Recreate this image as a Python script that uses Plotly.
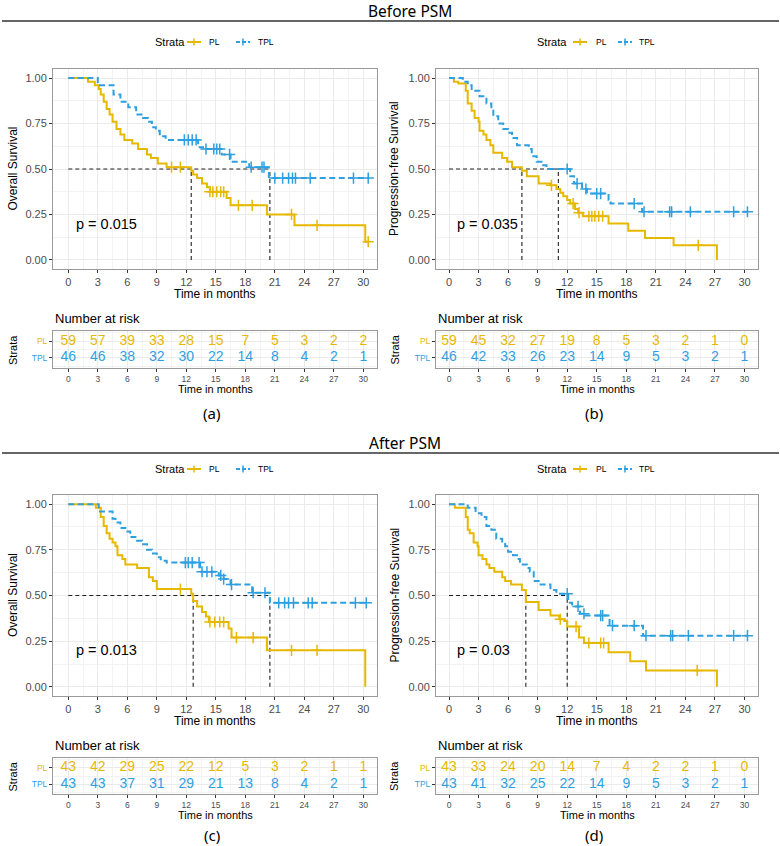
import numpy as np
import plotly.graph_objects as go

W, H = 780, 846
PL_COLOR = "#E7B800"
TPL_COLOR = "#2E9FDF"
TIME_TICKS = [0, 3, 6, 9, 12, 15, 18, 21, 24, 27, 30]
SURV_TICKS = [0.0, 0.25, 0.5, 0.75, 1.0]
SURV_TICK_LABELS = ["0.00", "0.25", "0.50", "0.75", "1.00"]
SECTION_TITLES = ["Before PSM", "After PSM"]
PANEL_LABELS = ["(a)", "(b)", "(c)", "(d)"]
Y_TITLES = ["Overall Survival", "Progression-free Survival",
            "Overall Survival", "Progression-free Survival"]
P_VALUES = ["p = 0.015", "p = 0.035", "p = 0.013", "p = 0.03"]

# ---------------- (a) Before PSM, OS ----------------
A_PL_TIME = [0, 2.0, 2.7, 3.1, 3.3, 3.6, 3.9, 4.2, 4.5, 4.9, 5.3, 5.7, 6.5, 7.1, 8.0, 8.4,
             9.1, 10.0, 12.5, 12.7, 13.1, 13.6, 14.1, 14.4, 16.1, 16.5, 20.2, 23.0, 30.2]
A_PL_SURV = [1.0, 0.98, 0.96, 0.94, 0.91, 0.87, 0.83, 0.80, 0.76, 0.72, 0.69, 0.66, 0.64, 0.61,
             0.58, 0.56, 0.53, 0.51, 0.49, 0.47, 0.45, 0.42, 0.40, 0.375, 0.34, 0.30, 0.25, 0.19, 0.10]
A_PL_CENSOR = [10.5, 11.4, 14.4, 14.7, 15.1, 15.5, 15.8, 17.3, 18.7, 22.7, 25.3, 30.5]
A_TPL_TIME = [0, 3.0, 4.6, 5.3, 6.1, 6.9, 7.6, 8.1, 8.5, 8.9, 9.3, 9.9, 13.2, 13.7, 15.6,
              16.5, 18.4, 20.4]
A_TPL_SURV = [1.0, 0.96, 0.91, 0.87, 0.84, 0.80, 0.78, 0.76, 0.73, 0.71, 0.68, 0.66, 0.62,
              0.61, 0.58, 0.54, 0.51, 0.45]
A_TPL_CENSOR = [11.8, 12.2, 12.6, 13.0, 14.0, 14.8, 15.1, 15.4, 16.4, 18.6, 19.7, 19.9, 21.0,
                21.8, 22.4, 22.8, 23.1, 24.6, 29.0, 30.5]
A_MEDIANS = [12.5, 20.5]
A_RISK_PL = [59, 57, 39, 33, 28, 15, 7, 5, 3, 2, 2]
A_RISK_TPL = [46, 46, 38, 32, 30, 22, 14, 8, 4, 2, 1]

# ---------------- (b) Before PSM, PFS ----------------
B_PL_TIME = [0, 0.5, 0.95, 1.7, 1.9, 2.3, 2.6, 3.0, 3.1, 3.5, 3.8, 4.2, 4.5, 5.4, 5.9, 6.4,
             7.4, 7.9, 9.1, 10.3, 10.9, 11.3, 11.6, 12.0, 12.3, 12.8, 13.1, 13.6, 16.2, 18.2,
             19.9, 22.8, 27.2]
B_PL_SURV = [1.0, 0.98, 0.97, 0.93, 0.86, 0.82, 0.78, 0.76, 0.71, 0.69, 0.66, 0.63, 0.59, 0.56,
             0.54, 0.51, 0.49, 0.46, 0.42, 0.41, 0.39, 0.37, 0.35, 0.33, 0.31, 0.28, 0.26, 0.24,
             0.20, 0.16, 0.12, 0.08, 0.0]
B_PL_CENSOR = [10.4, 12.6, 13.2, 14.2, 14.5, 14.8, 15.2, 15.6, 25.3]
B_TPL_TIME = [0, 1.4, 1.9, 2.3, 3.1, 3.8, 4.3, 4.5, 5.0, 5.5, 6.0, 6.4, 6.9, 8.1, 8.4, 8.9,
              9.4, 9.9, 12.3, 12.7, 13.5, 14.0, 16.2, 16.4, 19.6]
B_TPL_SURV = [1.0, 0.98, 0.96, 0.93, 0.90, 0.86, 0.83, 0.79, 0.75, 0.72, 0.70, 0.67, 0.63,
              0.61, 0.57, 0.54, 0.52, 0.50, 0.46, 0.42, 0.39, 0.365, 0.33, 0.31, 0.265]
B_TPL_CENSOR = [12.0, 13.0, 13.9, 15.0, 15.4, 18.8, 19.8, 22.4, 22.6, 24.5, 28.9, 30.3]
B_MEDIANS = [7.4, 11.1]
B_RISK_PL = [59, 45, 32, 27, 19, 8, 5, 3, 2, 1, 0]
B_RISK_TPL = [46, 42, 33, 26, 23, 14, 9, 5, 3, 2, 1]

# ---------------- (c) After PSM, OS ----------------
C_PL_TIME = [0, 2.8, 3.3, 3.6, 3.9, 4.2, 4.5, 4.8, 5.0, 5.5, 5.8, 7.0, 8.2, 8.6, 9.0, 12.5,
             12.7, 13.1, 13.6, 14.0, 14.3, 16.3, 16.6, 20.2, 30.2]
C_PL_SURV = [1.0, 0.98, 0.93, 0.88, 0.84, 0.81, 0.79, 0.77, 0.72, 0.70, 0.67, 0.65, 0.60,
             0.58, 0.535, 0.51, 0.47, 0.44, 0.41, 0.385, 0.355, 0.32, 0.27, 0.20, 0.0]
C_PL_CENSOR = [11.4, 14.4, 14.9, 15.4, 15.8, 17.1, 18.8, 22.7, 25.3]
C_TPL_TIME = [0, 3.1, 4.5, 4.8, 5.3, 5.8, 6.3, 7.0, 7.5, 8.0, 8.5, 9.0, 9.4, 10.0, 13.4,
              15.3, 15.8, 16.5, 18.7, 20.5]
C_TPL_SURV = [1.0, 0.96, 0.92, 0.90, 0.87, 0.85, 0.82, 0.80, 0.78, 0.75, 0.73, 0.71, 0.69,
              0.68, 0.63, 0.61, 0.59, 0.56, 0.515, 0.46]
C_TPL_CENSOR = [11.9, 12.2, 12.6, 13.3, 13.6, 14.1, 14.6, 15.5, 15.8, 16.6, 18.8, 20.0,
                21.4, 22.0, 22.4, 22.9, 24.4, 24.8, 29.2, 30.3]
C_MEDIANS = [12.7, 20.5]
C_RISK_PL = [43, 42, 29, 25, 22, 12, 5, 3, 2, 1, 1]
C_RISK_TPL = [43, 43, 37, 31, 29, 21, 13, 8, 4, 2, 1]

# ---------------- (d) After PSM, PFS ----------------
D_PL_TIME = [0, 0.6, 1.7, 1.9, 2.1, 2.5, 2.9, 3.0, 3.4, 3.8, 4.1, 4.6, 5.4, 5.7, 6.3, 7.4,
             7.8, 9.1, 10.3, 11.2, 11.7, 12.0, 13.2, 13.7, 16.2, 18.4, 20.0, 27.2]
D_PL_SURV = [1.0, 0.98, 0.93, 0.86, 0.84, 0.79, 0.77, 0.72, 0.70, 0.67, 0.65, 0.63, 0.60,
             0.58, 0.56, 0.53, 0.465, 0.42, 0.39, 0.37, 0.36, 0.33, 0.27, 0.24, 0.19, 0.14,
             0.09, 0.0]
D_PL_CENSOR = [11.3, 12.9, 14.2, 15.4, 15.7, 25.2]
D_TPL_TIME = [0, 1.9, 2.7, 3.3, 3.8, 4.3, 4.8, 5.4, 5.7, 6.0, 6.5, 6.9, 7.2, 7.9, 8.2, 8.6,
              9.1, 10.3, 10.9, 12.1, 12.5, 13.3, 13.8, 16.3, 19.7]
D_TPL_SURV = [1.0, 0.98, 0.95, 0.93, 0.88, 0.86, 0.81, 0.79, 0.77, 0.74, 0.72, 0.70, 0.67,
              0.65, 0.63, 0.58, 0.56, 0.53, 0.51, 0.46, 0.44, 0.40, 0.39, 0.335, 0.28]
D_TPL_CENSOR = [12.0, 13.1, 13.7, 15.4, 15.6, 16.6, 18.8, 20.0, 22.5, 22.7, 24.3, 28.9, 30.3]
D_MEDIANS = [7.8, 12.0]
D_RISK_PL = [43, 33, 24, 20, 14, 7, 4, 2, 2, 1, 0]
D_RISK_TPL = [43, 41, 32, 25, 22, 14, 9, 5, 3, 2, 1]

PANELS = [
    (A_PL_TIME, A_PL_SURV, A_PL_CENSOR, A_TPL_TIME, A_TPL_SURV, A_TPL_CENSOR, A_MEDIANS, A_RISK_PL, A_RISK_TPL),
    (B_PL_TIME, B_PL_SURV, B_PL_CENSOR, B_TPL_TIME, B_TPL_SURV, B_TPL_CENSOR, B_MEDIANS, B_RISK_PL, B_RISK_TPL),
    (C_PL_TIME, C_PL_SURV, C_PL_CENSOR, C_TPL_TIME, C_TPL_SURV, C_TPL_CENSOR, C_MEDIANS, C_RISK_PL, C_RISK_TPL),
    (D_PL_TIME, D_PL_SURV, D_PL_CENSOR, D_TPL_TIME, D_TPL_SURV, D_TPL_CENSOR, D_MEDIANS, D_RISK_PL, D_RISK_TPL),
]

# ---------------- geometry (pixels) ----------------
COLS = [dict(l=53, r=377, x0=68.3, x30=363.3, ytx=12.5, lg=(170, 194, 214, 243, 266)),
        dict(l=436, r=758, x0=449.0, x30=744.5, ytx=394, lg=(552, 580, 601, 625, 647))]
ROWS = [dict(top=69, bot=269, ttop=331, tbot=368, title_y=11, rule_y=21, leg_y=42, lab_y=413),
        dict(top=495, bot=696, ttop=758, tbot=794, title_y=443, rule_y=453, leg_y=469, lab_y=835)]
TITLE_X = [410, 405]

SANS = "Liberation Sans, Arial, sans-serif"
TITLE_FONT = "Noto Sans, sans-serif"
TICK_GREY = "#4D4D4D"
GRID = "#EBEBEB"
BORDER = "#9A9A9A"


def px_x(p):
    return p / W


def px_y(p):
    return 1 - p / H


def step_xy(times, surv, censors):
    x, y = list(times), list(surv)
    if censors and max(censors) > x[-1]:
        x.append(max(censors))
        y.append(y[-1])
    return x, y


def surv_at(times, surv, ts):
    idx = np.searchsorted(np.array(times), np.array(ts), side="right") - 1
    return [surv[i] for i in idx]


fig = go.Figure()
layout = dict(width=W, height=H, margin=dict(l=0, r=0, t=0, b=0),
              paper_bgcolor="white", plot_bgcolor="white", showlegend=False)
annotations = []
shapes = []

for k, data in enumerate(PANELS):
    pl_t, pl_s, pl_c, tpl_t, tpl_s, tpl_c, medians, risk_pl, risk_tpl = data
    col = COLS[k % 2]
    row = ROWS[k // 2]
    mpp = 30.0 / (col["x30"] - col["x0"])
    xr = [(col["l"] - col["x0"]) * mpp, (col["r"] - col["x0"]) * mpp]
    nm, nt = 2 * k + 1, 2 * k + 2
    xm, ym = ("x", "y") if nm == 1 else (f"x{nm}", f"y{nm}")
    xt, yt = f"x{nt}", f"y{nt}"

    common_x = dict(range=xr, tickvals=TIME_TICKS, ticks="outside", ticklen=3, tickwidth=1,
                    tickcolor="#333333", showgrid=True, gridcolor=GRID, gridwidth=1,
                    minor=dict(dtick=1.5, tick0=0, showgrid=True, gridcolor="#F3F3F3", gridwidth=0.6),
                    zeroline=False, showline=True, mirror=True, linecolor=BORDER, linewidth=1,
                    fixedrange=True, domain=[px_x(col["l"]), px_x(col["r"])])
    layout["xaxis" if nm == 1 else f"xaxis{nm}"] = dict(
        common_x, anchor=ym, tickfont=dict(family=SANS, size=11, color=TICK_GREY))
    layout["yaxis" if nm == 1 else f"yaxis{nm}"] = dict(
        range=[-0.05, 1.05], tickvals=SURV_TICKS, ticktext=SURV_TICK_LABELS, ticks="outside",
        ticklen=3, tickcolor="#333333", tickfont=dict(family=SANS, size=11, color=TICK_GREY),
        showgrid=True, gridcolor=GRID, gridwidth=1,
        minor=dict(dtick=0.125, tick0=0, showgrid=True, gridcolor="#F3F3F3", gridwidth=0.6),
        zeroline=False, showline=True, mirror=True, linecolor=BORDER, linewidth=1,
        fixedrange=True, anchor=xm, domain=[px_y(row["bot"]), px_y(row["top"])])
    layout[f"xaxis{nt}"] = dict(common_x, anchor=yt,
                                tickfont=dict(family=SANS, size=8.5, color=TICK_GREY))
    layout[f"yaxis{nt}"] = dict(
        range=[0.4, 2.6], tickvals=[1, 2],
        ticktext=[f'<span style="color:{TPL_COLOR}">TPL</span>',
                  f'<span style="color:{PL_COLOR}">PL</span>'],
        ticks="outside", ticklen=3, tickcolor="#333333",
        tickfont=dict(family=SANS, size=8.5), showgrid=True, gridcolor=GRID,
        minor=dict(dtick=0.5, tick0=0, showgrid=True, gridcolor="#F3F3F3", gridwidth=0.6),
        zeroline=False, showline=True, mirror=True, linecolor=BORDER, linewidth=1,
        fixedrange=True, anchor=xt, domain=[px_y(row["tbot"]), px_y(row["ttop"])])

    # median reference lines
    mx, my = [0, max(medians), None], [0.5, 0.5, None]
    for m in medians:
        mx += [m, m, None]
        my += [0, 0.5, None]
    fig.add_trace(go.Scatter(x=mx, y=my, xaxis=xm, yaxis=ym, mode="lines", hoverinfo="skip",
                             line=dict(color="#222222", width=1.1, dash="4px,3px")))

    # survival curves
    for t, s, c, color, dash in [(pl_t, pl_s, pl_c, PL_COLOR, "solid"),
                                 (tpl_t, tpl_s, tpl_c, TPL_COLOR, "6px,3.5px")]:
        x, y = step_xy(t, s, c)
        fig.add_trace(go.Scatter(x=x, y=y, xaxis=xm, yaxis=ym, mode="lines", line_shape="hv",
                                 line=dict(color=color, width=2, dash=dash)))
        fig.add_trace(go.Scatter(x=c, y=surv_at(t, s, c), xaxis=xm, yaxis=ym, mode="markers",
                                 marker=dict(symbol="cross-thin", size=8, color=color,
                                             line=dict(color=color, width=1.5))))

    # number at risk
    fig.add_trace(go.Scatter(x=TIME_TICKS, y=[2] * len(TIME_TICKS), xaxis=xt, yaxis=yt,
                             mode="text", text=[str(v) for v in risk_pl],
                             textfont=dict(family=SANS, size=14, color=PL_COLOR)))
    fig.add_trace(go.Scatter(x=TIME_TICKS, y=[1] * len(TIME_TICKS), xaxis=xt, yaxis=yt,
                             mode="text", text=[str(v) for v in risk_tpl],
                             textfont=dict(family=SANS, size=14, color=TPL_COLOR)))

    # p value
    annotations.append(dict(x=0.6, y=0.2, xref=xm, yref=ym, text=P_VALUES[k], showarrow=False,
                            xanchor="left", yanchor="middle",
                            font=dict(family=SANS, size=14.5, color="black")))

    cx = (col["l"] + col["r"]) / 2

    def ann(x, y, text, size, font=SANS, angle=0, xanchor="center", color="black"):
        annotations.append(dict(x=px_x(x), y=px_y(y), xref="paper", yref="paper", text=text,
                                showarrow=False, xanchor=xanchor, yanchor="middle",
                                textangle=angle, font=dict(family=font, size=size, color=color)))

    ann(col["ytx"], (row["top"] + row["bot"]) / 2, Y_TITLES[k], 12, angle=-90)
    ann(cx, row["bot"] + 25, "Time in months", 12)
    ann(col["l"], row["ttop"] - 13, "Number at risk", 13, xanchor="left")
    ann(col["ytx"], (row["ttop"] + row["tbot"]) / 2, "Strata", 11, angle=-90)
    ann(cx, row["tbot"] + 21, "Time in months", 11)
    ann(cx - 3, row["lab_y"], PANEL_LABELS[k], 15, font=TITLE_FONT)

    # legend
    sx, plx, pltx, tplx, tpltx = col["lg"]
    ly = row["leg_y"]
    ann(sx, ly, "Strata", 11)
    ann(pltx, ly, "PL", 8.5)
    ann(tpltx, ly, "TPL", 8.5)
    for cxp, color, dash in [(plx, PL_COLOR, "solid"), (tplx, TPL_COLOR, "4px,2px")]:
        shapes.append(dict(type="line", xref="paper", yref="paper",
                           x0=px_x(cxp - 7), x1=px_x(cxp + 7), y0=px_y(ly), y1=px_y(ly),
                           line=dict(color=color, width=2, dash=dash)))
        shapes.append(dict(type="line", xref="paper", yref="paper",
                           x0=px_x(cxp), x1=px_x(cxp), y0=px_y(ly - 3.5), y1=px_y(ly + 3.5),
                           line=dict(color=color, width=1.5)))

for i, row in enumerate(ROWS):
    annotations.append(dict(x=px_x(TITLE_X[i]), y=px_y(row["title_y"]), xref="paper", yref="paper",
                            text=SECTION_TITLES[i], showarrow=False, xanchor="center",
                            yanchor="middle", font=dict(family=TITLE_FONT, size=15.5, color="black")))
    shapes.append(dict(type="line", xref="paper", yref="paper", x0=px_x(2), x1=px_x(779),
                       y0=px_y(row["rule_y"]), y1=px_y(row["rule_y"]),
                       line=dict(color="#333333", width=1.5)))

layout["annotations"] = annotations
layout["shapes"] = shapes
fig.update_layout(**layout)
fig.write_html("out.html", config={"displayModeBar": False},
               post_script="document.body.style.margin='0px';document.body.style.overflow='hidden';")
